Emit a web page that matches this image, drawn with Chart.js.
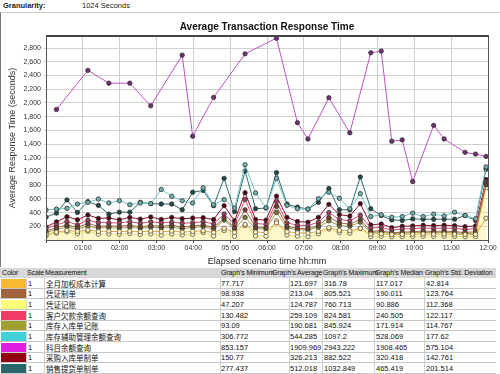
<!DOCTYPE html>
<html>
<head>
<meta charset="utf-8">
<script src="https://cdn.jsdelivr.net/npm/chart.js@4.4.1/dist/chart.umd.min.js"></script>
<style>
body { margin: 0; width: 500px; height: 374px; background: #fff; overflow: hidden; position: relative; font-family: "Liberation Sans", Arial, sans-serif; }
#gran { position: absolute; left: 3px; top: 1px; font-size: 7.5px; color: #222; }
#gran b { display: inline-block; width: 79px; }
#panel { position: absolute; left: 0; top: 12px; width: 499px; height: 254px; border-left: 1px solid #777; border-top: 1px solid #ccc; }
#tbl { position: absolute; left: 0; top: 268px; width: 498px; height: 106px; font-size: 7.5px; color: #111; }
.cell { position: absolute; white-space: nowrap; line-height: 10px; }
.hd { font-size: 7px; letter-spacing: -0.1px; }
.hline { position: absolute; left: 0; width: 496px; height: 1px; background: #c8c8c8; }
.vline { position: absolute; width: 1px; background: #d0d0d0; top: 10px; height: 96px; }
.sw { position: absolute; left: 1px; width: 25px; }
.cn { font-family: "Noto Sans CJK SC", sans-serif; font-size: 7.5px; }
</style>
</head>
<body>
<div id="gran"><b>Granularity:</b>1024 Seconds</div>
<div id="panel"><canvas id="chart" width="499" height="254"></canvas></div>
<div id="tbl"></div>
<script>
// elapsed scenario time (seconds), one point per 1024 s
const elapsed = [0,1024,2048,3072,4096,5120,6144,7168,8192,9216,10240,11264,12288,13312,14336,15360,16384,17408,18432,19456,20480,21504,22528,23552,24576,25600,26624,27648,28672,29696,30720,31744,32768,33792,34816,35840,36864,37888,38912,39936,40960,41984,43008];

const names = ['全月加权成本计算','凭证制单','凭证记账','客户欠款余额查询','库存入库单记账','库存辅助管理余额查询','科目余额查询','采购入库单制单','销售提货单制单'];
const swatch = ['#f8b830','#a0623a','#ffff78','#f03c64','#a0a030','#40d0d8','#e020e0','#900010','#286868'];
const lineColors = ['#e0a838','#a06848','#f0e070','#e05070','#a0a040','#70c4c8','#c050c0','#901030','#2f6a6a'];
const markerFill = ['#fff4c8','#704030','#ffffe0','#a04060','#7a7a38','#70b0b0','#703070','#500010','#204848'];

const yTicks = [200,400,600,800,1000,1200,1400,1600,1800,2000,2200,2400,2600,2800];

const orange = [85,115,140,125,145,125,130,120,130,120,130,120,130,115,125,135,110,170,110,230,115,110,250,120,105,100,125,180,140,135,170,85,90,80,82,85,88,85,88,85,80,82,317];
const brown = [130,180,220,185,240,200,205,200,215,195,210,200,215,190,205,220,185,320,180,440,190,180,490,200,170,165,210,330,250,230,300,125,135,105,115,120,130,125,130,120,110,120,805];
const yellow = [60,100,120,90,130,85,90,85,95,80,90,70,90,75,85,110,60,140,55,210,60,55,280,75,55,50,90,160,110,100,170,50,55,48,50,52,55,52,55,52,48,50,761];
const pink = [170,220,270,220,290,255,250,250,265,245,265,250,260,245,250,265,235,380,230,590,240,230,560,250,215,210,260,400,300,280,360,175,185,145,160,165,175,170,175,170,155,165,825];
const olive = [110,150,190,160,200,175,180,170,185,170,185,175,185,165,180,195,160,290,160,330,165,160,400,175,150,145,185,280,210,200,260,110,115,95,100,105,110,105,110,105,95,100,846];
const cyan = [440,451,461,525,549,598,540,574,515,540,530,736,638,574,540,761,515,589,466,1097,687,470,899,505,456,451,603,697,608,456,677,342,367,333,342,392,342,377,352,406,357,310,1067];
const magenta = [null,1903,null,null,2474,null,2287,null,2287,null,1957,null,null,2696,1514,null,2080,null,null,2715,null,null,2943,null,1711,1474,null,2075,null,1563,null,2730,2755,1440,1460,853,null,1672,1474,null,1278,1253,1219];
const darkRed = [190,265,340,295,365,315,320,295,330,305,335,300,330,310,320,325,300,500,280,690,300,290,640,330,270,260,330,520,370,350,530,220,235,180,200,205,215,210,215,210,195,205,882];
const teal = [333,392,584,402,560,505,377,406,406,549,530,525,525,441,697,722,500,899,416,1007,456,466,983,525,480,451,549,751,441,441,919,456,357,293,285,308,303,303,303,303,357,283,1033];

const series = [orange, brown, yellow, pink, olive, cyan, magenta, darkRed, teal];

// summary table columns
const scale = ['1','1','1','1','1','1','1','1','1'];
const mins = ['77.717','98.938','47.207','130.482','93.09','306.772','853.157','150.77','277.437'];
const avgs = ['121.697','213.04','124.787','259.109','190.681','544.285','1909.969','326.213','512.018'];
const maxs = ['316.78','805.521','760.713','824.581','845.924','1097.2','2943.222','882.522','1032.849'];
const medians = ['117.017','190.011','90.886','240.505','171.914','528.069','1908.465','320.418','465.419'];
const stds = ['42.814','123.764','112.368','122.117','114.767','177.62','575.104','142.761','201.514'];

const datasets = series.map(function (vals, i) {
    return {
        label: names[i],
        data: vals.map(function (v, k) { return { x: elapsed[k], y: v }; }),
        borderColor: lineColors[i],
        borderWidth: 1,
        backgroundColor: i === 2 ? 'rgba(250,238,140,0.45)' : markerFill[i],
        fill: i === 2 ? 'origin' : false,
        pointBackgroundColor: markerFill[i],
        pointBorderColor: (i === 0 || i === 2) ? '#5a5030' : '#333',
        pointBorderWidth: 0.8,
        pointRadius: 2.2,
        spanGaps: true,
        tension: 0
    };
});

// dark frame round the plot area
const frame = {
    id: 'frame',
    afterDraw: function (chart) {
        const a = chart.chartArea, c = chart.ctx;
        c.save();
        c.strokeStyle = '#555';
        c.lineWidth = 1;
        c.strokeRect(a.left + 0.5, a.top + 0.5, a.right - a.left, a.bottom - a.top);
        c.fillStyle = '#444';
        c.fillRect(a.left, a.top - 1, a.right - a.left + 1, 2);
        c.restore();
    }
};

function hhmm(v) {
    const h = Math.round(v / 3600);
    return (h < 10 ? '0' : '') + h + ':00';
}

var ctx = document.getElementById('chart').getContext('2d');
const myChart = new Chart(ctx, {
    type: 'line',
    data: { datasets: datasets },
    plugins: [frame],
    options: {
        responsive: false,
        animation: false,
        layout: { padding: { left: 0, right: 12, top: 0, bottom: 0 } },
        plugins: {
            legend: { display: false },
            tooltip: { enabled: false },
            title: {
                display: true,
                fullSize: false,
                text: 'Average Transaction Response Time',
                color: '#111',
                font: { family: 'Liberation Sans', size: 10, weight: 'bold' },
                padding: { top: 8, bottom: 3 }
            }
        },
        scales: {
            x: {
                type: 'linear',
                min: 0,
                max: 43200,
                afterFit: function (s) { s.height = 27; },
                ticks: {
                    stepSize: 3600,
                    autoSkip: false,
                    maxRotation: 0,
                    padding: 1,
                    color: '#333',
                    font: { family: 'Liberation Sans', size: 7 },
                    callback: function (v) { return v === 0 ? '' : hhmm(v); }
                },
                grid: { color: '#d0d0d0', tickColor: '#444', tickLength: 3 },
                border: { color: '#333' },
                title: {
                    display: true,
                    text: 'Elapsed scenario time hh:mm',
                    color: '#222',
                    font: { family: 'Liberation Sans', size: 9 },
                    padding: { top: 0, bottom: 0 }
                }
            },
            y: {
                min: 0,
                max: 2975,
                afterFit: function (s) { s.width = 45; },
                afterBuildTicks: function (s) {
                    s.ticks = [0].concat(yTicks).map(function (v) { return { value: v }; });
                },
                ticks: {
                    autoSkip: false,
                    padding: 3,
                    color: '#333',
                    font: { family: 'Liberation Sans', size: 7 },
                    callback: function (v) {
                        return v > 0 ? String(v).replace(/\B(?=(\d{3})+$)/, ',') : '';
                    }
                },
                grid: { color: '#d0d0d0', tickLength: 2 },
                border: { color: '#333' },
                title: {
                    display: true,
                    text: 'Average Response Time (seconds)',
                    color: '#333',
                    font: { family: 'Liberation Sans', size: 9 },
                    padding: { top: 6, bottom: 0 }
                }
            }
        }
    }
});

// summary table under the chart
const tbl = document.getElementById('tbl');
function cell(txt, x, y, cls) {
    const d = document.createElement('div');
    d.className = 'cell' + (cls ? ' ' + cls : '');
    d.style.left = x + 'px';
    d.style.top = y + 'px';
    d.textContent = txt;
    tbl.appendChild(d);
}
const head = document.createElement('div');
head.style.cssText = 'position:absolute;left:0;top:0;width:496px;height:10px;background:#d8d8d8;';
tbl.appendChild(head);
[26, 44, 220, 289, 322, 374, 424].forEach(function (x) {
    const v = document.createElement('div');
    v.className = 'vline';
    v.style.left = x + 'px';
    tbl.appendChild(v);
});
const headers = [['Color', 2], ['Scale', 27], ['Measurement', 45], ["Graph's Minimum", 221], ["Graph's Average", 272], ["Graph's Maximum", 323], ["Graph's Median", 375], ["Graph's Std. Deviation", 425]];
headers.forEach(function (h) { cell(h[0], h[1], 0, 'hd'); });
const rowH = 10.67;
names.forEach(function (n, i) {
    const top = 10 + i * rowH;
    const s = document.createElement('div');
    s.className = 'sw';
    s.style.top = (top + 0.5) + 'px';
    s.style.height = (rowH - 1.5) + 'px';
    s.style.background = swatch[i];
    tbl.appendChild(s);
    const l = document.createElement('div');
    l.className = 'hline';
    l.style.top = (top + rowH - 1) + 'px';
    tbl.appendChild(l);
    cell(scale[i], 28, top + 0.5);
    cell(n, 46, top + 0.5, 'cn');
    cell(mins[i], 221, top + 0.5);
    cell(avgs[i], 290, top + 0.5);
    cell(maxs[i], 324, top + 0.5);
    cell(medians[i], 376, top + 0.5);
    cell(stds[i], 426, top + 0.5);
});
</script>
</body>
</html>
